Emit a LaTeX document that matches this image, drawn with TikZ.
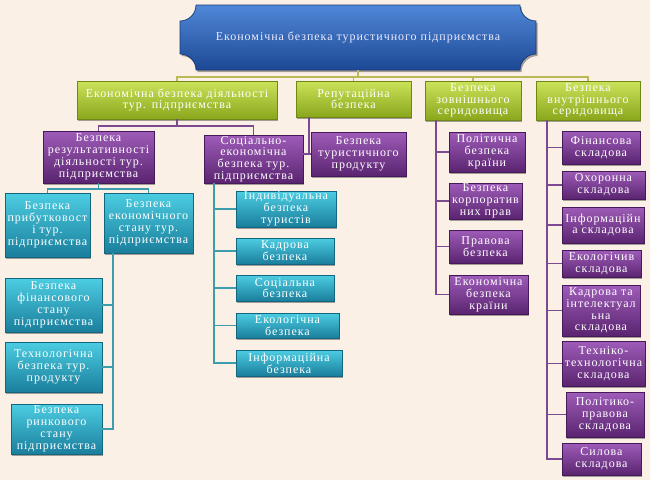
\documentclass[tikz,border=0pt]{standalone}
\usepackage{fontspec}
\newfontfamily\boxfont[LetterSpace=8]{Liberation Serif}
\usetikzlibrary{shadows}
\definecolor{bgc}{HTML}{FBF0E6}
\definecolor{blueT}{HTML}{5088D8}
\definecolor{blueB}{HTML}{1C4894}
\definecolor{blueD}{HTML}{153A78}
\definecolor{grnT}{HTML}{CBE35A}
\definecolor{grnB}{HTML}{8AA71C}
\definecolor{grnD}{HTML}{6E8814}
\definecolor{purT}{HTML}{9E5CB8}
\definecolor{purB}{HTML}{5A2470}
\definecolor{purD}{HTML}{45195A}
\definecolor{tealT}{HTML}{4CCDE2}
\definecolor{tealB}{HTML}{1A7E9C}
\definecolor{tealD}{HTML}{136680}
\definecolor{olvL}{HTML}{BBB858}
\definecolor{purL}{HTML}{7C4A90}
\definecolor{tealL}{HTML}{3D9DAC}
\tikzset{
  boxbase/.style={rectangle, inner sep=0pt, outer sep=0pt, align=center, text=white,
    font={\fontsize{12}{11.8}\selectfont\boxfont}, line width=0.6pt,
    drop shadow={shadow xshift=1.2pt, shadow yshift=-1.6pt, opacity=0.35, fill=black}},
  grnbox/.style={boxbase, top color=grnT, bottom color=grnB, draw=grnD},
  purbox/.style={boxbase, top color=purT, bottom color=purB, draw=purD},
  tealbox/.style={boxbase, top color=tealT, bottom color=tealB, draw=tealD},
  toptext/.style={rectangle, inner sep=0pt, outer sep=0pt, align=center, text=white!92!blue,
    font={\fontsize{12}{12}\selectfont\boxfont}},
  oline/.style={draw=olvL, line width=1.8pt},
  pline/.style={draw=purL, line width=1.8pt},
  tline/.style={draw=tealL, line width=1.8pt}
}
\newcommand\bx[7]{\node[#2, text width=#5pt, minimum width=#5pt, minimum height=#6pt] (#1) at (#3,#4) {#7};}
\begin{document}
\begin{tikzpicture}[x=1pt,y=-1pt]
\useasboundingbox (0,0) rectangle (650,480);
\fill[bgc] (0,0) rectangle (650,480);

\coordinate (obus) at (358,77);
\coordinate (pbus) at (177,126);
\coordinate (tbus) at (98,189);

% top box shape
\shade[top color=blueT, bottom color=blueB, draw=blueD, line width=0.7pt,
  drop shadow={shadow xshift=1.5pt, shadow yshift=-2pt, opacity=0.35, fill=black}]
  (196,5) -- (520,5) .. controls (520,13.8) and (527.2,21) .. (536,21)
  -- (536,54) .. controls (527.2,54) and (520,61.2) .. (520,70)
  -- (196,70) .. controls (196,61.2) and (188.8,54) .. (180,54)
  -- (180,21) .. controls (188.8,21) and (196,13.8) .. (196,5) -- cycle;
\node[toptext, minimum width=356pt, minimum height=65pt] (top) at (358,37.5) {Економічна безпека туристичного підприємства};

% level 1
\bx{G1}{grnbox}{177}{100}{200}{38}{Економічна безпека діяльності\\тур. підприємства}
\bx{G2}{grnbox}{353.5}{99}{115}{36}{Репутаційна\\безпека}
\bx{G3}{grnbox}{473}{100.5}{96}{39}{Безпека\\зовнішнього\\серидовища}
\bx{G4}{grnbox}{588}{100.5}{104}{39}{Безпека\\внутрішнього\\серидовища}

\draw[oline] (top.south) -- (top.south |- obus);
\draw[oline] (G1.north) -- (G1.north |- obus) -- (G4.north |- obus) -- (G4.north);
\draw[oline] (G2.north) -- (G2.north |- obus);
\draw[oline] (G3.north) -- (G3.north |- obus);

% purple level under G1
\bx{P1}{purbox}{98.5}{157}{111}{52}{Безпека\\результативності\\діяльності тур.\\підприємства}
\bx{P2}{purbox}{253.5}{159}{99}{48}{Соціально-\\економічна\\безпека тур.\\підприємства}
\draw[pline] (G1.south) -- (G1.south |- pbus);
\draw[pline] (P1.north) -- (P1.north |- pbus) -- (P2.north |- pbus) -- (P2.north);

% G2 -> P3
\bx{P3}{purbox}{358.5}{154}{95}{44}{Безпека\\туристичного\\продукту}
\draw[pline] ([xshift=13pt]G2.south west) |- (P3.west);
\draw[pline] (P2.east |- P3.west) -- (P3.west);

% teal under P1
\bx{T1}{tealbox}{47.5}{225}{85}{64}{Безпека\\прибутковост\\і тур.\\підприємства}
\bx{T2}{tealbox}{148.5}{223}{89}{60}{Безпека\\економічного\\стану тур.\\підприємства}
\draw[tline] (P1.south) -- (P1.south |- tbus);
\draw[tline] (T1.north) -- (T1.north |- tbus) -- (T2.north |- tbus) -- (T2.north);

% hanging under T2 (boxes to the left)
\bx{T3}{tealbox}{53.5}{305}{97}{54}{Безпека\\фінансового\\стану\\підприємства}
\bx{T4}{tealbox}{53.5}{367}{97}{50}{Технологічна\\безпека тур.\\продукту}
\bx{T5}{tealbox}{56.5}{429}{91}{50}{Безпека\\ринкового\\стану\\підприємства}
\coordinate (t2v) at (113,253);
\draw[tline] (t2v) |- (T5.east);
\draw[tline] (t2v |- T3.east) -- (T3.east);
\draw[tline] (t2v |- T4.east) -- (T4.east);

% hanging under P2
\bx{C1}{tealbox}{286}{209}{100}{36}{Індивідуальна\\безпека\\туристів}
\bx{C2}{tealbox}{285}{251}{98}{26}{Кадрова\\безпека}
\bx{C3}{tealbox}{285}{288}{98}{26}{Соціальна\\безпека}
\bx{C4}{tealbox}{287.5}{325.5}{103}{25}{Екологічна\\безпека}
\bx{C5}{tealbox}{289}{363}{106}{26}{Інформаційна\\безпека}
\coordinate (p2v) at (214,183);
\draw[tline] (p2v) |- (C5.west);
\foreach \c in {C1,C2,C3,C4} \draw[tline] (p2v |- \c.west) -- (\c.west);

% hanging under G3
\bx{E1}{purbox}{487}{152}{76}{40}{Політична\\безпека\\країни}
\bx{E2}{purbox}{485.5}{201}{73}{36}{Безпека\\корпоратив\\них прав}
\bx{E3}{purbox}{485.5}{246.5}{73}{33}{Правова\\безпека}
\bx{E4}{purbox}{488.5}{294.5}{79}{39}{Економічна\\безпека\\країни}
\coordinate (g3v) at (436,120);
\draw[pline] (g3v) |- (E4.west);
\foreach \c in {E1,E2,E3} \draw[pline] (g3v |- \c.west) -- (\c.west);

% hanging under G4
\bx{I1}{purbox}{601}{147.5}{78}{33}{Фінансова\\складова}
\bx{I2}{purbox}{603.5}{185}{83}{28}{Охоронна\\складова}
\bx{I3}{purbox}{603}{225}{82}{36}{Інформаційн\\а складова}
\bx{I4}{purbox}{601.5}{263.5}{79}{27}{Екологічив\\складова}
\bx{I5}{purbox}{601}{310.5}{78}{51}{Кадрова та\\інтелектуал\\ьна\\складова}
\bx{I6}{purbox}{603.5}{363.5}{83}{45}{Техніко-\\технологічна\\складова}
\bx{I7}{purbox}{605}{414.5}{78}{45}{Політико-\\правова\\складова}
\bx{I8}{purbox}{601.5}{459}{79}{32}{Силова\\складова}
\coordinate (g4v) at (547,120);
\draw[pline] (g4v) |- (I8.west);
\foreach \c in {I1,I2,I3,I4,I5,I6,I7} \draw[pline] (g4v |- \c.west) -- (\c.west);
\end{tikzpicture}
\end{document}
